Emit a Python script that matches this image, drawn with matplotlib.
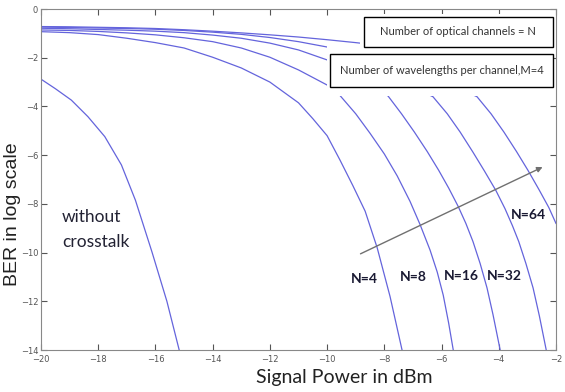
import matplotlib.pyplot as plt
from matplotlib.patches import Rectangle

# curves: signal power (dBm) vs log10(BER)
nocross_x = [-20.0, -19.5, -18.94, -18.36, -17.77, -17.19, -16.7, -16.12, -15.6, -15.17]
nocross_y = [-2.88, -3.27, -3.74, -4.42, -5.24, -6.4, -7.85, -9.98, -12.0, -14.0]

n4_x = [-20, -19, -18, -17, -16, -15, -14, -13, -12, -11, -10.5, -10.0, -9.55, -9.1,
        -8.67, -8.25, -7.8, -7.38]
n4_y = [-0.93, -0.97, -1.05, -1.2, -1.38, -1.6, -1.98, -2.42, -3.0, -3.85, -4.5, -5.2,
        -6.2, -7.25, -8.3, -9.8, -11.8, -14.0]

n8_x = [-20, -19, -18, -17, -16, -15, -14, -13, -12, -11, -10, -9.55, -9, -8.5, -8,
        -7.55, -7.1, -6.75, -6.4, -6.15, -5.94, -5.75, -5.59]
n8_y = [-0.86, -0.88, -0.92, -0.98, -1.06, -1.18, -1.34, -1.6, -1.98, -2.5, -3.12, -3.55,
        -4.3, -5.1, -5.95, -6.85, -7.9, -8.85, -9.9, -10.8, -11.75, -12.9, -14.0]

n16_x = [-20, -19, -18, -17, -16, -15, -14, -13, -12, -11, -10, -9, -7.87, -7.4, -6.95,
         -6.5, -6.1, -5.75, -5.42, -5.15, -4.9, -4.65, -4.41, -4.2, -3.95]
n16_y = [-0.79, -0.81, -0.84, -0.87, -0.91, -0.97, -1.07, -1.2, -1.4, -1.68, -2.09, -2.75,
         -3.57, -4.3, -5.05, -5.85, -6.62, -7.35, -8.1, -8.8, -9.55, -10.45, -11.45,
         -12.55, -14.0]

n32_x = [-20, -19, -18, -17, -16, -15, -14, -13, -12, -11, -10, -6.3, -5.8, -5.35, -4.9,
         -4.5, -4.1, -3.78, -3.52, -3.3, -3.05, -2.8, -2.58, -2.34]
n32_y = [-0.74, -0.76, -0.78, -0.8, -0.83, -0.88, -0.95, -1.04, -1.17, -1.34, -1.56, -3.6,
         -4.3, -5.05, -5.88, -6.65, -7.45, -8.2, -8.9, -9.55, -10.45, -11.45, -12.6, -14.0]

n64_x = [-20, -19, -18, -17, -16, -15, -14, -13, -12, -11, -10, -9, -8.85, -4.76, -4.27,
         -3.82, -3.38, -2.98, -2.6, -2.25, -2.0]
n64_y = [-0.72, -0.73, -0.75, -0.77, -0.8, -0.85, -0.91, -0.98, -1.06, -1.15, -1.26, -1.38,
         -1.4, -3.6, -4.3, -5.05, -5.85, -6.62, -7.4, -8.15, -8.8]

labels = ['N=4', 'N=8', 'N=16', 'N=32', 'N=64']
label_x = [-8.71, -6.98, -5.3, -3.79, -2.97]
label_y = [-11.08, -11.02, -10.96, -10.96, -8.46]

xticks = list(range(-20, -1, 2))
yticks = list(range(-14, 1, 2))

line_col = '#6464dc'

fig = plt.figure(figsize=(5.65, 3.92), dpi=100)
ax = fig.add_axes([0.0726, 0.1071, 0.9114, 0.8699])

ax.plot(nocross_x, nocross_y, color=line_col, lw=0.9)
for xs, ys in [(n4_x, n4_y), (n8_x, n8_y), (n16_x, n16_y), (n32_x, n32_y), (n64_x, n64_y)]:
    ax.plot(xs, ys, color=line_col, lw=0.9)

ax.set_xlim(-20, -2)
ax.set_ylim(-14, 0)
ax.set_xticks(xticks)
ax.set_yticks(yticks)
ax.tick_params(direction='in', length=4, width=0.8, colors='#555555', labelsize=6,
               top=True, right=True, pad=2)
ax.tick_params(axis='x', pad=3.5)
for sp in ax.spines.values():
    sp.set_color('#888888')
    sp.set_linewidth(0.8)

# white areas of the overlaid text boxes
ax.add_patch(Rectangle((-10.0, -3.57), 7.9, 2.09, facecolor='white', edgecolor='none', zorder=3))
ax.add_patch(Rectangle((-8.85, -1.68), 6.75, 1.48, facecolor='white', edgecolor='none', zorder=3))
# framed boxes
ax.add_patch(Rectangle((-8.71, -1.56), 6.61, 1.23, facecolor='white', edgecolor='black', lw=1, zorder=4))
ax.add_patch(Rectangle((-9.9, -3.2), 7.8, 1.35, facecolor='white', edgecolor='black', lw=1, zorder=4))
ax.text(-5.42, -0.94, 'Number of optical channels = N', ha='center', va='center',
        fontsize=8, family='Lato', color='#333333', zorder=5)
ax.text(-6.0, -2.52, 'Number of wavelengths per channel,M=4', ha='center', va='center',
        fontsize=8, family='Lato', color='#333333', zorder=5)

ax.text(-19.27, -8.74, 'without', ha='left', va='baseline', fontsize=12.5,
        family='Lato', color='#222233')
ax.text(-19.27, -9.77, 'crosstalk', ha='left', va='baseline', fontsize=12.5,
        family='Lato', color='#222233')

for lab, lx, ly in zip(labels, label_x, label_y):
    ax.text(lx, ly, lab, ha='center', va='center', fontsize=10, fontweight='bold',
            family='Lato', color='#1a1a33')

ax.annotate('', xy=(-2.38, -6.44), xytext=(-8.92, -10.1),
            arrowprops=dict(arrowstyle='-|>', color='#707070', lw=1, mutation_scale=8))

fig.text(344 / 565, 1 - 377 / 392, 'Signal Power in dBm', ha='center', va='center',
         fontsize=14, family='Lato', color='#222222')
fig.text(13 / 565, 1 - 214 / 392, 'BER in log scale', ha='center', va='center',
         rotation=90, fontsize=14, family='Liberation Sans', color='#222222')

fig.savefig('out.png', dpi=100)
